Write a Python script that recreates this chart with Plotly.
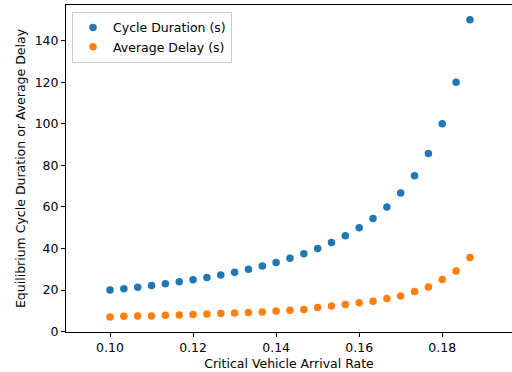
import plotly.graph_objects as go

arrival_rate = [0.1 + k * 0.01 / 3 for k in range(27)]
arrival_rate = [round(v, 5) for v in arrival_rate]

cycle_duration = [20.0, 20.7, 21.4, 22.2, 23.1, 24.0, 25.0, 26.1, 27.3, 28.6,
                  30.0, 31.6, 33.3, 35.3, 37.5, 40.0, 42.9, 46.2, 50.0, 54.5,
                  60.0, 66.7, 75.0, 85.7, 100.0, 120.0, 150.0]
average_delay = [7.1, 7.4, 7.5, 7.6, 7.9, 8.0, 8.3, 8.5, 8.7, 9.0,
                 9.2, 9.5, 10.0, 10.3, 10.7, 11.6, 12.3, 13.1, 13.9, 14.7,
                 16.0, 17.2, 19.3, 21.5, 25.1, 29.2, 35.7]

series_names = ["Cycle Duration (s)", "Average Delay (s)"]
x_ticks = [0.10, 0.12, 0.14, 0.16, 0.18]
x_tick_labels = ["0.10", "0.12", "0.14", "0.16", "0.18"]
y_ticks = [0, 20, 40, 60, 80, 100, 120, 140]

font = "DejaVu Sans"
fs = 12.5
fig = go.Figure()
fig.add_trace(go.Scatter(x=arrival_rate, y=cycle_duration, mode="markers",
                         name=series_names[0],
                         marker=dict(color="#1f77b4", size=7.5, line=dict(width=0))))
fig.add_trace(go.Scatter(x=arrival_rate, y=average_delay, mode="markers",
                         name=series_names[1],
                         marker=dict(color="#ff7f0e", size=7.5, line=dict(width=0))))

axis_common = dict(showgrid=False, zeroline=False, showline=True, linecolor="black",
                   linewidth=1, ticks="outside", ticklen=4, tickwidth=1, tickcolor="black",
                   tickfont=dict(family=font, size=fs, color="black"))
fig.update_layout(
    width=512, height=372,
    margin=dict(l=66, r=0, t=5, b=40),
    paper_bgcolor="white", plot_bgcolor="white",
    font=dict(family=font, size=fs, color="black"),
    xaxis=dict(range=[0.0894, 0.1968], tickvals=x_ticks, ticktext=x_tick_labels,
               mirror=True,
               title=dict(text="Critical Vehicle Arrival Rate", standoff=5,
                          font=dict(family=font, size=fs, color="black")),
               **axis_common),
    yaxis=dict(range=[-0.15, 157.15], tickvals=y_ticks,
               title=dict(text="Equilibrium Cycle Duration or Average Delay", standoff=6,
                          font=dict(family=font, size=fs, color="black")),
               **axis_common),
    legend=dict(x=0.0135, y=0.979, xanchor="left", yanchor="top",
                bgcolor="white", bordercolor="#cccccc", borderwidth=1,
                font=dict(family=font, size=fs, color="black"),
                itemsizing="trace", tracegroupgap=0),
    showlegend=True,
)
fig.write_html("out.html", config={"displayModeBar": False},
               post_script="document.body.style.margin='0';")
